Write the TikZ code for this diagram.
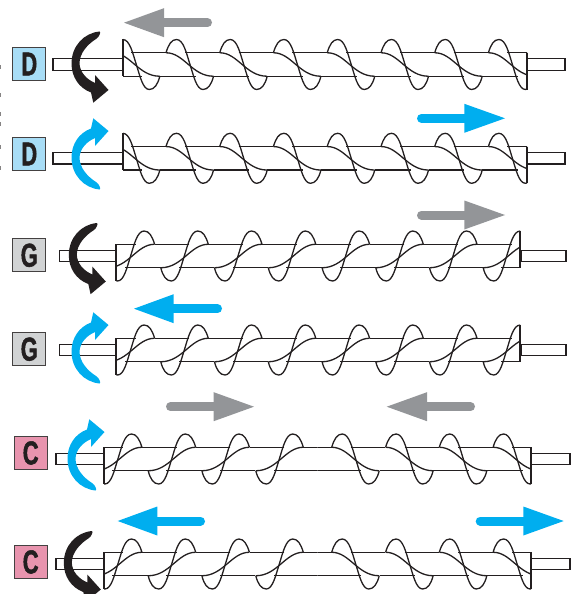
\documentclass[tikz,border=0pt]{standalone}
\usepackage{fontspec}
\setmainfont{Liberation Sans}
\newfontfamily\badgefont[FakeBold=1.6,FakeStretch=0.66]{Liberation Sans Bold}
\definecolor{ink}{HTML}{231F20}
\definecolor{flowgray}{HTML}{939598}
\definecolor{flowblue}{HTML}{00AEEF}
\definecolor{badgeblue}{HTML}{A8DDF6}
\definecolor{badgegray}{HTML}{D1D3D4}
\definecolor{badgepink}{HTML}{E894AE}
\tikzset{
  screwline/.style={draw=ink,line width=1.3pt,line join=round},
  stubline/.style={draw=ink,line width=1.2pt,fill=white},
  badge/.style={draw=ink!85,line width=1pt,minimum width=33pt,minimum height=33pt,inner sep=0pt,text=ink},
}
% one turn of the flight, starting at x=#1
\newcommand\flightturn[1]{%
  \begin{scope}[shift={(#1,0)}]
    \draw[screwline] (0,-11.75) .. controls (2.5,-20) and (5.5,-25) .. (10.5,-25)
      .. controls (17.5,-25) and (20.5,-11) .. (24,0)
      .. controls (27.5,11) and (30.5,25) .. (37,25)
      .. controls (42,25) and (45.5,20) .. (47.5,11.75);
    \draw[screwline] (0,-11.75) .. controls (18,-11.75) and (26,11.75) .. (47.5,11.75);
    \draw[screwline] (19,-11.75) -- (53.7,-11.75);
    \draw[screwline] (-6,11.75) -- (29.5,11.75);
  \end{scope}}
% full screw with x positions of the D row; #1 = centre y, #2 = scope options
\newcommand\fullscrew[2]{%
  \begin{scope}[shift={(0,#1)},#2]
    \begin{scope}
      \clip (123,-40) rectangle (527,40);
      \foreach \s in {112.3,166,219.7,273.4,327.2,381,434.7,488.4} {\flightturn{\s}}
    \end{scope}
    \draw[screwline] (123,-25) -- (123,11.75);
    \draw[screwline] (527,-11.75) -- (527,25);
  \end{scope}}
% right half of the C screw
\newcommand\halfscrew{%
  \begin{scope}
    \clip (317.5,-40) rectangle (531,40);
    \foreach \s in {331.7,385.6,439.3,493.1} {\flightturn{\s}}
    \draw[screwline] (317,-11.75) -- (332,-11.75);
    \draw[screwline] (317,11.75) -- (361.2,11.75);
  \end{scope}
  \draw[screwline] (531,-11.75) -- (531,25);}
\newcommand\cscrew[1]{%
  \begin{scope}[shift={(0,#1)}]\halfscrew\end{scope}
  \begin{scope}[shift={(635,#1)},xscale=-1]\halfscrew\end{scope}}
% straight flow arrows: tail x (cap centre), base x, tip x, y, colour
\newcommand\flowarrow[5]{%
  \draw[#5,line width=9pt,line cap=round] (#1,#4) -- (#2,#4);
  \fill[#5] (#2,#4-14.5) -- (#3,#4) -- (#2,#4+14.5) -- cycle;}
% rotation arrow, local coordinates
\newcommand\rotarrow[2]{%
  \begin{scope}[shift={(#1)},#2]
    \fill (99.5,31.5) .. controls (84,33) and (71.5,46) .. (71.5,63.5)
      .. controls (71.5,77) and (79,88) .. (91,92.5)
      -- (93.3,102.7) -- (108.5,90) -- (95,75) -- (95,83)
      .. controls (86,79) and (80,72) .. (79.5,63.5)
      .. controls (79.5,53) and (88,44) .. (96,39)
      .. controls (99,37.5) and (101.5,31.5) .. (99.5,31.5) -- cycle;
  \end{scope}}
\begin{document}
\begin{tikzpicture}[x=1pt,y=-1pt]
\useasboundingbox (0,0) rectangle (575,594);
% cropped marks at the left edge
\foreach \c in {67,95,114,124,147,168}{
  \fill[ink!55] (0,\c-1.8) rectangle (1.2,\c+1.8);}
% stubs
\foreach \a/\b/\c in {53/123/64.5,53/123/158.3,59.5/116/256,59.5/116/350,56/104/459,56/104/564}{
  \draw[stubline] (\a,\c-5.7) rectangle (\b,\c+5.7);}
\foreach \a/\b/\c in {527/565/64.5,527/565/158.3,521/566/256,521/566/350,531/570/459,531/570/564}{
  \draw[stubline] (\a,\c-5.7) rectangle (\b,\c+5.7);}
% screws
\fullscrew{64.5}{}
\fullscrew{158.3}{}
\fullscrew{256}{shift={(643,0)},xscale=-1}
\fullscrew{350}{shift={(643,0)},xscale=-1}
\cscrew{459}
\cscrew{564}
% flow arrows
\flowarrow{207.5}{164}{124}{22.7}{flowgray}
\flowarrow{421.5}{464.3}{505}{118.3}{flowblue}
\flowarrow{421.5}{464.3}{505}{215}{flowgray}
\flowarrow{217.5}{173.7}{134}{308.7}{flowblue}
\flowarrow{170.5}{213.7}{254}{406.7}{flowgray}
\flowarrow{470.5}{427}{386.7}{406.7}{flowgray}
\flowarrow{200.5}{157.3}{117.7}{521}{flowblue}
\flowarrow{480.2}{523.3}{563.7}{521}{flowblue}
% rotation arrows
\begin{scope}[ink]
  \rotarrow{0,0}{}
  \rotarrow{-2.7,191.5}{}
  \rotarrow{-7.7,499.5}{}
\end{scope}
\begin{scope}[flowblue]
  \rotarrow{0,221}{yscale=-1}
  \rotarrow{0,415}{yscale=-1}
  \rotarrow{-4,522}{yscale=-1}
\end{scope}
% badges
\foreach \n/\t/\col/\xx/\yy in {d1/D/badgeblue/29.3/64,d2/D/badgeblue/29.3/154,g1/G/badgegray/29.3/255.3,g2/G/badgegray/29.3/349.2,c1/C/badgepink/30.7/453,c2/C/badgepink/30.7/562}{
  \node[badge,fill=\col] (\n) at (\xx,\yy) {\fontsize{33pt}{33pt}\selectfont\badgefont \t};}
\end{tikzpicture}
\end{document}
